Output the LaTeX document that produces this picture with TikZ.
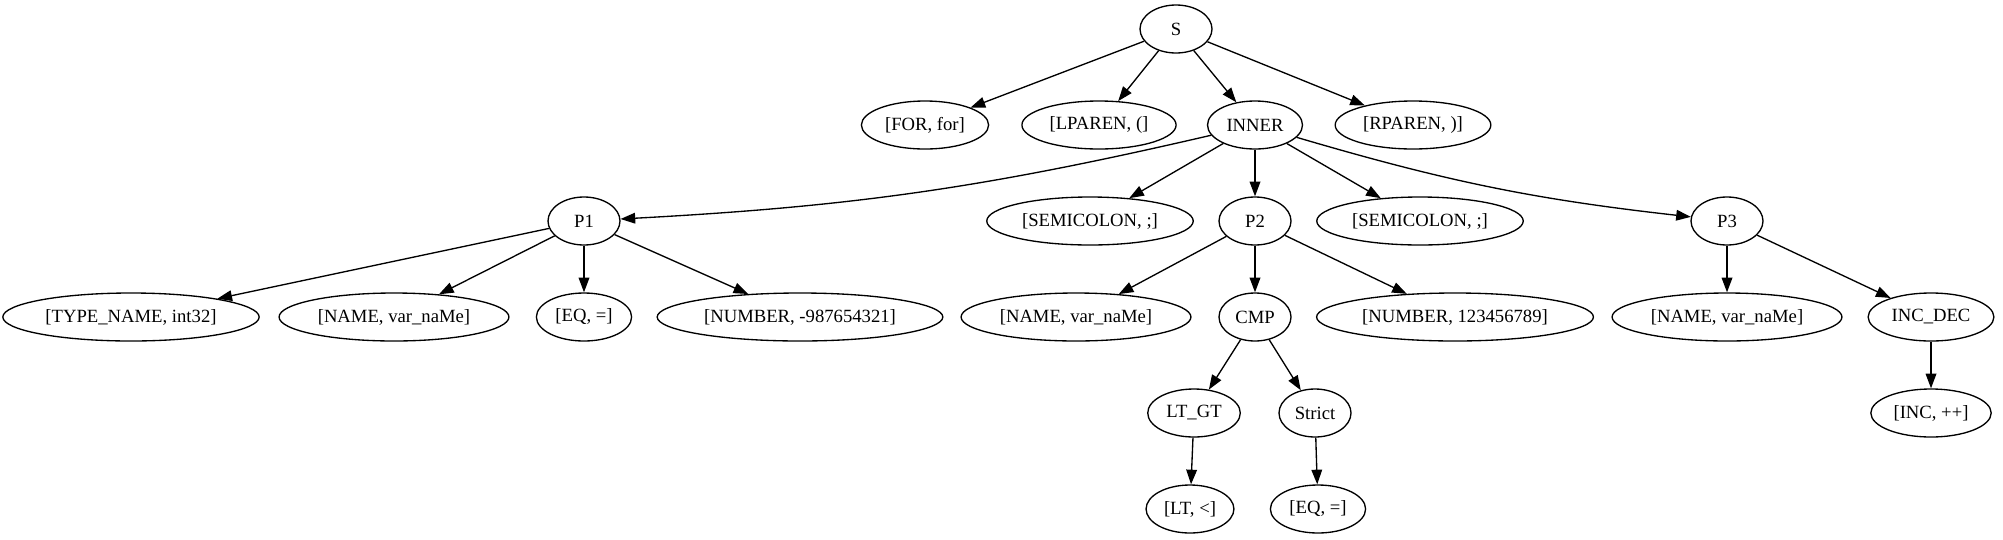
\documentclass[tikz,border=0pt]{standalone}
\usepackage{fontspec}
\setmainfont{Liberation Serif}
\usetikzlibrary{arrows, arrows.meta, shapes.geometric}

\begin{document}
\begin{tikzpicture}[x=0.75bp, y=-0.75bp,
    tok/.style={draw, ellipse, line width=1bp, font=\fontsize{14bp}{16bp}\selectfont, inner xsep=3.8bp, inner ysep=3.96bp, minimum width=54bp, minimum height=36bp},
    br/.style={line width=1bp, -{Triangle[length=11bp, width=8bp]}}]
\useasboundingbox (0,0) rectangle (2003,539);

\node[tok] (S) at (1176,29) {S};

\node[tok] (FOR) at (925,125) {[FOR, for]};
\node[tok] (LPAREN) at (1099,125) {[LPAREN, (]};
\node[tok] (INNER) at (1255,125) {INNER};
\node[tok] (RPAREN) at (1413,125) {[RPAREN, )]};

\node[tok] (P1) at (584,221) {P1};
\node[tok] (SEMIa) at (1090,221) {[SEMICOLON, ;]};
\node[tok] (P2) at (1255,221) {P2};
\node[tok] (SEMIb) at (1420,221) {[SEMICOLON, ;]};
\node[tok] (P3) at (1727,221) {P3};

\node[tok] (TYPENAME) at (131,317) {[TYPE\_NAME, int32]};
\node[tok] (NAMEa) at (394,317) {[NAME, var\_naMe]};
\node[tok] (EQa) at (584,317) {[EQ, =]};
\node[tok] (NUMBERa) at (800,317) {[NUMBER, -987654321]};
\node[tok] (NAMEb) at (1076,317) {[NAME, var\_naMe]};
\node[tok] (CMP) at (1255,317) {CMP};
\node[tok] (NUMBERb) at (1455,317) {[NUMBER, 123456789]};
\node[tok] (NAMEc) at (1727,317) {[NAME, var\_naMe]};
\node[tok] (INCDEC) at (1931,317) {INC\_DEC};

\node[tok] (LTGT) at (1194,413) {LT\_GT};
\node[tok] (Strict) at (1315,413) {Strict};
\node[tok] (INC) at (1931,413) {[INC, ++]};

\node[tok] (LT) at (1190,509) {[LT, <]};
\node[tok] (EQb) at (1318,509) {[EQ, =]};

\draw [br] (S) -- (FOR);
\draw [br] (S) -- (LPAREN);
\draw [br] (S) -- (INNER);
\draw [br] (S) -- (RPAREN);

\draw [br] (INNER) to[bend left=5] (P1);
\draw [br] (INNER) -- (SEMIa);
\draw [br] (INNER) -- (P2);
\draw [br] (INNER) -- (SEMIb);
\draw [br] (INNER) to[bend right=5] (P3);

\draw [br] (P1) -- (TYPENAME);
\draw [br] (P1) -- (NAMEa);
\draw [br] (P1) -- (EQa);
\draw [br] (P1) -- (NUMBERa);

\draw [br] (P2) -- (NAMEb);
\draw [br] (P2) -- (CMP);
\draw [br] (P2) -- (NUMBERb);

\draw [br] (P3) -- (NAMEc);
\draw [br] (P3) -- (INCDEC);

\draw [br] (CMP) -- (LTGT);
\draw [br] (CMP) -- (Strict);
\draw [br] (LTGT) -- (LT);
\draw [br] (Strict) -- (EQb);
\draw [br] (INCDEC) -- (INC);

\end{tikzpicture}
\end{document}
